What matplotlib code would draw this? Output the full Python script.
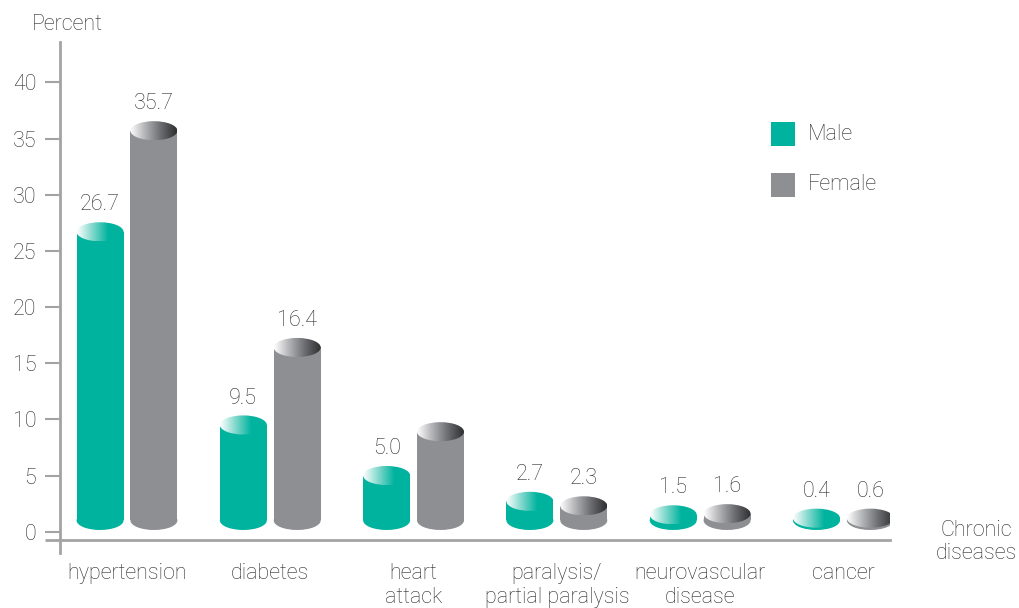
import numpy as np
import matplotlib
matplotlib.use("Agg")
import matplotlib.pyplot as plt
from matplotlib.patches import Ellipse, Rectangle
from matplotlib.colors import LinearSegmentedColormap

categories = ["hypertension", "diabetes", "heart\nattack", "paralysis/\npartial paralysis",
              "neurovascular\ndisease", "cancer"]
male = [26.7, 9.5, 5.0, 2.7, 1.5, 0.4]
female = [35.7, 16.4, 8.9, 2.3, 1.6, 0.6]
male_labels = ["26.7", "9.5", "5.0", "2.7", "1.5", "0.4"]
female_labels = ["35.7", "16.4", None, "2.3", "1.6", "0.6"]
yticks = [0, 5, 10, 15, 20, 25, 30, 35, 40]

TEAL = "#00b39e"
GRAY = "#8e8f93"
TXT = "#2b2b2b"
AX = "#a3a3a3"
FS = 15.5

plt.rcParams["font.family"] = ["Roboto", "DejaVu Sans"]
plt.rcParams["font.weight"] = "light"

fig = plt.figure(figsize=(10.2, 6.08), dpi=100)
W, H = 1020, 608
ax = fig.add_axes([60 / W, 1 - 553 / H, (890 - 60) / W, (553 - 42) / H])
ax.set_xlim(-0.4675, 5.325)
ax.set_ylim(-1.9, 43.6)

cmap_m = LinearSegmentedColormap.from_list("m", ["#ffffff", "#7fd8cc", TEAL, TEAL])
cmap_f = LinearSegmentedColormap.from_list("f", ["#ffffff", "#b0b1b4", "#6a6b6f", "#2e2e30"])

bw = 0.328
off = 0.188
base = 1.0
eh = 1.7
grad = np.linspace(0, 1, 256).reshape(1, -1)


def cylinder(xc, v, color, cmap):
    top = max(v, base + 0.2)
    ax.add_patch(Ellipse((xc, base), bw, eh, facecolor=color, edgecolor="none", zorder=2))
    ax.add_patch(Rectangle((xc - bw / 2, base), bw, top - base, facecolor=color,
                           edgecolor="none", zorder=2))
    e = Ellipse((xc, top), bw, eh, facecolor="none", edgecolor="none", zorder=3)
    ax.add_patch(e)
    im = ax.imshow(grad, cmap=cmap, aspect="auto", zorder=3,
                   extent=(xc - bw / 2, xc + bw / 2, top - eh / 2, top + eh / 2))
    im.set_clip_path(e)
    return top


for i in range(len(categories)):
    tm = cylinder(i - off, male[i], TEAL, cmap_m)
    tf = cylinder(i + off, female[i], GRAY, cmap_f)
    if male_labels[i]:
        ax.text(i - off, tm + 2.4, male_labels[i], ha="center", va="center",
                fontsize=FS, color=TXT)
    if female_labels[i]:
        ax.text(i + off, tf + 2.4, female_labels[i], ha="center", va="center",
                fontsize=FS, color=TXT)

ax.set_xlim(-0.4675, 5.325)
ax.set_ylim(-1.9, 43.6)

for s in ["top", "right"]:
    ax.spines[s].set_visible(False)
ax.spines["left"].set_color(AX)
ax.spines["left"].set_linewidth(2)
ax.spines["bottom"].set_color(AX)
ax.spines["bottom"].set_linewidth(2)
ax.spines["bottom"].set_position(("data", -0.7))
ax.plot([-0.57, -0.4675], [-0.7, -0.7], color=AX, lw=2, clip_on=False, solid_capstyle="butt")

ax.set_yticks(yticks)
ax.set_yticklabels([str(t) for t in yticks])
ax.tick_params(axis="y", length=11, width=1.5, color=AX, labelsize=FS, labelcolor=TXT, pad=6)
ax.set_xticks(range(len(categories)))
ax.set_xticklabels(categories, linespacing=1.15)
ax.tick_params(axis="x", length=0, labelsize=FS, labelcolor=TXT, pad=17)

fig.text(67 / W, 1 - 25 / H, "Percent", ha="center", va="center", fontsize=FS, color=TXT)
fig.text(976 / W, 1 - 542 / H, "Chronic\ndiseases", ha="center", va="center",
         fontsize=FS, color=TXT, linespacing=1.15)

# legend
for (y0, c, lab) in [(122, TEAL, "Male"), (173, GRAY, "Female")]:
    fig.patches.append(Rectangle((771 / W, 1 - (y0 + 24) / H), 24 / W, 24 / H,
                                 transform=fig.transFigure, facecolor=c, edgecolor="none"))
    fig.text(808 / W, 1 - (y0 + 12) / H, lab, ha="left", va="center", fontsize=FS, color=TXT)

fig.savefig("out.png", dpi=100)
